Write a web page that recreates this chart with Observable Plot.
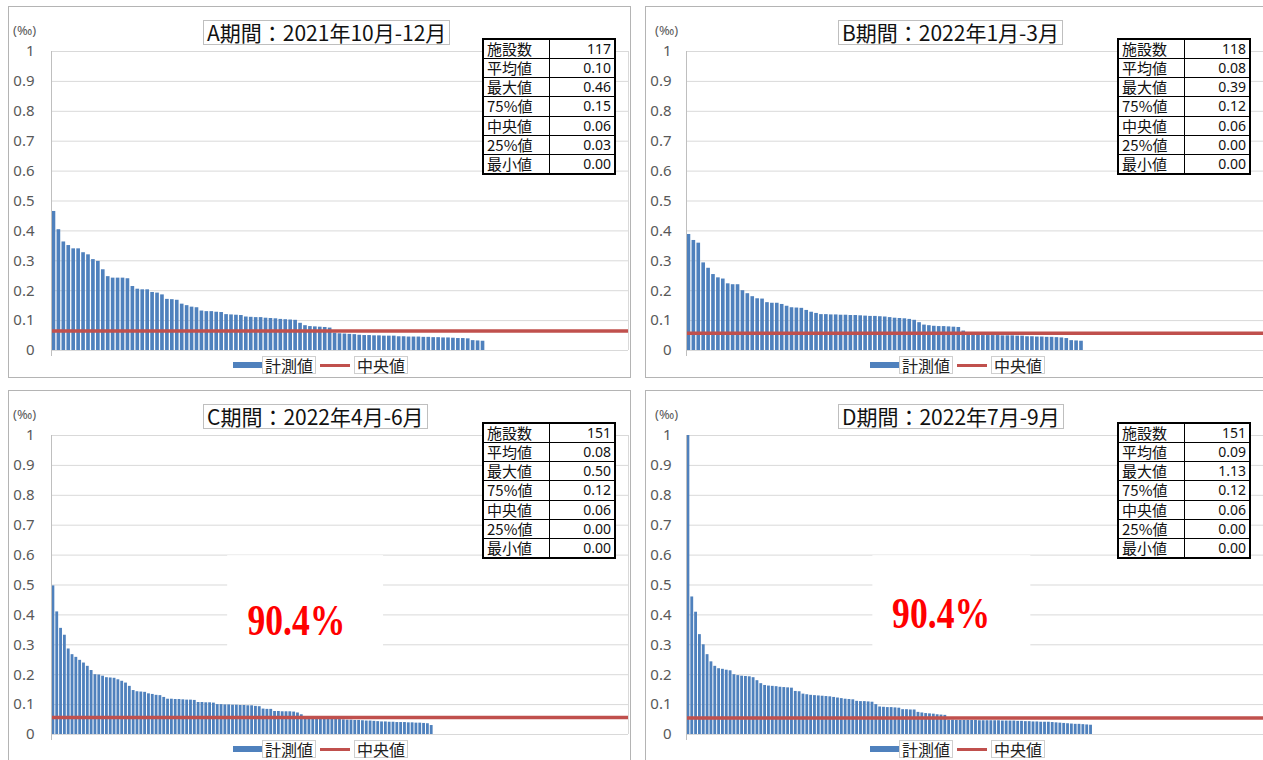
<!DOCTYPE html>
<html>
<head>
<meta charset="utf-8">
<script src="https://cdn.jsdelivr.net/npm/d3@7"></script>
<script src="https://cdn.jsdelivr.net/npm/@observablehq/plot@0.6"></script>
<style>
  body { margin: 0; background: #fff; }
  #root { position: relative; width: 1263px; height: 760px; overflow: hidden; background: #fff; }
  .panel { position: absolute; box-sizing: border-box; border: 1px solid #b4b4b4; background: #fff; }
  .panel svg { position: absolute; left: 0; top: 0; }
  .title { position: absolute; top: 13px; height: 23px; line-height: 23px; padding: 0 3px; border: 1px solid #bfbfbf;
           font-family: "Noto Sans CJK JP", sans-serif; font-size: 21px; color: #111; white-space: nowrap; background: #fff; }
  .unit { position: absolute; top: 14px; font-family: "Noto Sans", sans-serif; font-size: 13px; color: #595959; }
  table.stats { position: absolute; top: 31px; width: 134px; height: 137px; border-collapse: collapse; table-layout: fixed;
                border: 2px solid #000; font-family: "Noto Sans CJK JP", sans-serif; background: #fff; }
  table.stats td { border: 1.5px solid #000; padding: 0 3px; font-size: 15px; line-height: 16px; height: 17px; color: #111; white-space: nowrap; overflow: hidden; }
  table.stats td.v { text-align: right; font-family: "Noto Sans", sans-serif; font-size: 14px; }
  .legend { position: absolute; top: 349px; left: 224px; display: flex; align-items: center; font-family: "Noto Sans CJK JP", sans-serif; font-size: 16px; color: #222; }
  .legend .sw { display: inline-block; width: 29px; height: 6px; }
  .legend .ln { display: inline-block; width: 30px; height: 3px; }
  .legend .lb { border: 1px solid #cfcfcf; padding: 0 2px; line-height: 16px; }
</style>
</head>
<body>
<div id="root"></div>
<script>
// ---------------- data ----------------
const panelTitles = ["A期間：2021年10月-12月", "B期間：2022年1月-3月", "C期間：2022年4月-6月", "D期間：2022年7月-9月"];
const facilityCounts = [117, 118, 151, 151];
const statLabels = ["施設数", "平均値", "最大値", "75%値", "中央値", "25%値", "最小値"];
const statsA = ["117", "0.10", "0.46", "0.15", "0.06", "0.03", "0.00"];
const statsB = ["118", "0.08", "0.39", "0.12", "0.06", "0.00", "0.00"];
const statsC = ["151", "0.08", "0.50", "0.12", "0.06", "0.00", "0.00"];
const statsD = ["151", "0.09", "1.13", "0.12", "0.06", "0.00", "0.00"];
const medianLines = [0.065, 0.058, 0.057, 0.055];
const yTicks = [0, 0.1, 0.2, 0.3, 0.4, 0.5, 0.6, 0.7, 0.8, 0.9, 1];
const yTickLabels = ["0", "0.1", "0.2", "0.3", "0.4", "0.5", "0.6", "0.7", "0.8", "0.9", "1"];
const unitLabel = "(‰)";
const legendLabels = ["計測値", "中央値"];
const annotationLabel = "90.4%";

const valuesA = [0.465, 0.404, 0.363, 0.351, 0.340, 0.340, 0.327, 0.320, 0.304, 0.298,
  0.270, 0.247, 0.242, 0.242, 0.242, 0.240, 0.214, 0.205, 0.203, 0.203,
  0.194, 0.192, 0.186, 0.171, 0.170, 0.168, 0.155, 0.150, 0.145, 0.143,
  0.132, 0.130, 0.130, 0.128, 0.127, 0.120, 0.119, 0.118, 0.117, 0.112,
  0.111, 0.110, 0.110, 0.108, 0.107, 0.106, 0.104, 0.103, 0.102, 0.101,
  0.091, 0.083, 0.080, 0.079, 0.078, 0.077, 0.075, 0.058, 0.056, 0.055,
  0.054, 0.053, 0.051, 0.050, 0.050, 0.049, 0.049, 0.048, 0.048, 0.048,
  0.046, 0.046, 0.045, 0.045, 0.045, 0.044, 0.044, 0.043, 0.043, 0.042,
  0.042, 0.041, 0.040, 0.040, 0.039, 0.033, 0.032, 0.031];

const valuesB = [0.388, 0.368, 0.359, 0.293, 0.275, 0.254, 0.243, 0.239, 0.223, 0.220,
  0.220, 0.200, 0.190, 0.180, 0.173, 0.172, 0.160, 0.158, 0.158, 0.154,
  0.148, 0.143, 0.142, 0.141, 0.134, 0.128, 0.124, 0.120, 0.120, 0.119,
  0.119, 0.118, 0.118, 0.117, 0.117, 0.116, 0.115, 0.114, 0.114, 0.113,
  0.112, 0.110, 0.108, 0.107, 0.106, 0.104, 0.101, 0.093, 0.085, 0.083,
  0.081, 0.080, 0.080, 0.079, 0.078, 0.077, 0.065, 0.052, 0.051, 0.051,
  0.050, 0.050, 0.050, 0.050, 0.049, 0.049, 0.049, 0.048, 0.048, 0.046,
  0.046, 0.045, 0.045, 0.044, 0.044, 0.043, 0.042, 0.040, 0.033, 0.032, 0.031];

const valuesC = [0.497, 0.410, 0.355, 0.332, 0.286, 0.267, 0.258, 0.248, 0.239, 0.228,
  0.214, 0.200, 0.199, 0.195, 0.190, 0.189, 0.188, 0.183, 0.178, 0.172,
  0.161, 0.147, 0.143, 0.142, 0.141, 0.136, 0.134, 0.131, 0.130, 0.124,
  0.118, 0.118, 0.117, 0.117, 0.116, 0.115, 0.115, 0.114, 0.107, 0.107,
  0.106, 0.106, 0.105, 0.100, 0.100, 0.099, 0.099, 0.098, 0.098, 0.097,
  0.097, 0.096, 0.096, 0.094, 0.093, 0.085, 0.084, 0.084, 0.077, 0.077,
  0.076, 0.076, 0.076, 0.075, 0.072, 0.066, 0.060, 0.058, 0.058, 0.057,
  0.057, 0.057, 0.056, 0.056, 0.056, 0.050, 0.049, 0.048, 0.048, 0.047,
  0.047, 0.046, 0.045, 0.045, 0.044, 0.043, 0.042, 0.042, 0.041, 0.041,
  0.040, 0.040, 0.040, 0.039, 0.039, 0.038, 0.038, 0.037, 0.036, 0.030];

const valuesD = [1.13, 0.460, 0.409, 0.334, 0.300, 0.267, 0.243, 0.228, 0.220, 0.218,
  0.215, 0.213, 0.200, 0.197, 0.195, 0.194, 0.193, 0.190, 0.180, 0.170,
  0.164, 0.162, 0.161, 0.160, 0.158, 0.157, 0.156, 0.155, 0.144, 0.143,
  0.135, 0.133, 0.131, 0.130, 0.129, 0.128, 0.127, 0.126, 0.124, 0.122,
  0.120, 0.118, 0.117, 0.116, 0.111, 0.110, 0.110, 0.109, 0.108, 0.100,
  0.092, 0.091, 0.090, 0.090, 0.089, 0.088, 0.083, 0.083, 0.082, 0.082,
  0.074, 0.072, 0.070, 0.069, 0.068, 0.066, 0.065, 0.064, 0.048, 0.048,
  0.047, 0.047, 0.047, 0.047, 0.047, 0.047, 0.046, 0.046, 0.046, 0.046,
  0.046, 0.046, 0.045, 0.045, 0.045, 0.045, 0.044, 0.044, 0.043, 0.043,
  0.042, 0.042, 0.041, 0.041, 0.041, 0.040, 0.039, 0.038, 0.037, 0.036,
  0.035, 0.034, 0.034, 0.033, 0.032, 0.031];

// annotation boxes (index units on x, value units on y)
const annotationC = {label: annotationLabel, tx: 64.1, ty: 0.379, x1: 46.1, x2: 86.9, y1: 0.275, y2: 0.598};
const annotationD = {label: annotationLabel, tx: 66.4, ty: 0.403, x1: 48.6, x2: 89.8, y1: 0.205, y2: 0.598};

// ---------------- layout ----------------
const layout = [
  {left: 8,   top: 6,   height: 372, ml: 42, titleLeft: 194, tableLeft: 473, unitLeft: 4},
  {left: 645, top: 6,   height: 372, ml: 40, titleLeft: 192, tableLeft: 471, unitLeft: 9},
  {left: 8,   top: 390, height: 380, ml: 42, titleLeft: 194, tableLeft: 473, unitLeft: 4},
  {left: 645, top: 390, height: 380, ml: 40, titleLeft: 192, tableLeft: 471, unitLeft: 9}
];
const panelValues = [valuesA, valuesB, valuesC, valuesD];
const panelStats = [statsA, statsB, statsC, statsD];
const panelAnn = [null, null, annotationC, annotationD];

const BAR = "#4f81bd", MED = "#c0504d", GRID = "#d9d9d9";

function makeChart(values, n, median, ann, ml) {
  const data = values.map((v, i) => ({i, v}));
  const marks = [Plot.ruleY(yTicks, {stroke: GRID, strokeWidth: 1})];
  if (ann) marks.push(Plot.rect([ann], {x1: "x1", x2: "x2", y1: "y1", y2: "y2", fill: "#fff"}));
  marks.push(
    Plot.ruleX([n], {stroke: GRID}),
    Plot.rectY(data, {x1: d => d.i + 0.13, x2: d => d.i + 0.87, y1: 0, y2: "v", fill: BAR}),
    Plot.ruleY([median], {stroke: MED, strokeWidth: 3.5}),
    Plot.ruleX([0], {stroke: "#bfbfbf", insetBottom: -6}),
    Plot.axisY(yTicks, {tickSize: 0, tickPadding: ml - 25, fontSize: 15, label: null,
      tickFormat: d => yTickLabels[yTicks.indexOf(d)]})
  );
  if (ann) marks.push(Plot.text([ann], {x: "tx", y: "ty", text: "label", fill: "#ff0000",
      fontSize: 44, fontWeight: "bold", fontFamily: "Liberation Serif, serif"}));
  const chart = Plot.plot({
    width: 621, height: 351,
    marginLeft: ml, marginRight: 2, marginTop: 44, marginBottom: 8,
    x: {domain: [0, n], axis: null, label: null},
    y: {domain: [0, 1], clamp: true, axis: null, label: null},
    style: {fontFamily: "Noto Sans, sans-serif", fontSize: "15px", color: "#595959", background: "transparent"},
    marks
  });
  if (ann) {
    d3.select(chart).selectAll('g[aria-label="text"] text')
      .attr("textLength", 98).attr("lengthAdjust", "spacingAndGlyphs");
  }
  return chart;
}

const root = document.getElementById("root");
layout.forEach((L, k) => {
  const div = document.createElement("div");
  div.className = "panel";
  Object.assign(div.style, {left: L.left + "px", top: L.top + "px", width: "623px", height: L.height + "px"});
  div.appendChild(makeChart(panelValues[k], facilityCounts[k], medianLines[k], panelAnn[k], L.ml));

  const unit = document.createElement("div");
  unit.className = "unit"; unit.style.left = L.unitLeft + "px"; unit.textContent = unitLabel;
  div.appendChild(unit);

  const title = document.createElement("div");
  title.className = "title"; title.style.left = L.titleLeft + "px"; title.textContent = panelTitles[k];
  div.appendChild(title);

  const table = document.createElement("table");
  table.className = "stats"; table.style.left = L.tableLeft + "px";
  statLabels.forEach((lab, r) => {
    const tr = document.createElement("tr");
    const a = document.createElement("td"); a.textContent = lab;
    const b = document.createElement("td"); b.className = "v"; b.textContent = panelStats[k][r];
    tr.appendChild(a); tr.appendChild(b); table.appendChild(tr);
  });
  div.appendChild(table);

  const lg = document.createElement("div");
  lg.className = "legend";
  lg.innerHTML = `<span class="sw" style="background:${BAR}"></span><span class="lb">${legendLabels[0]}</span>` +
    `<span class="ln" style="background:${MED};margin-left:4px"></span><span class="lb" style="margin-left:4px">${legendLabels[1]}</span>`;
  div.appendChild(lg);

  root.appendChild(div);
});
</script>
</body>
</html>
